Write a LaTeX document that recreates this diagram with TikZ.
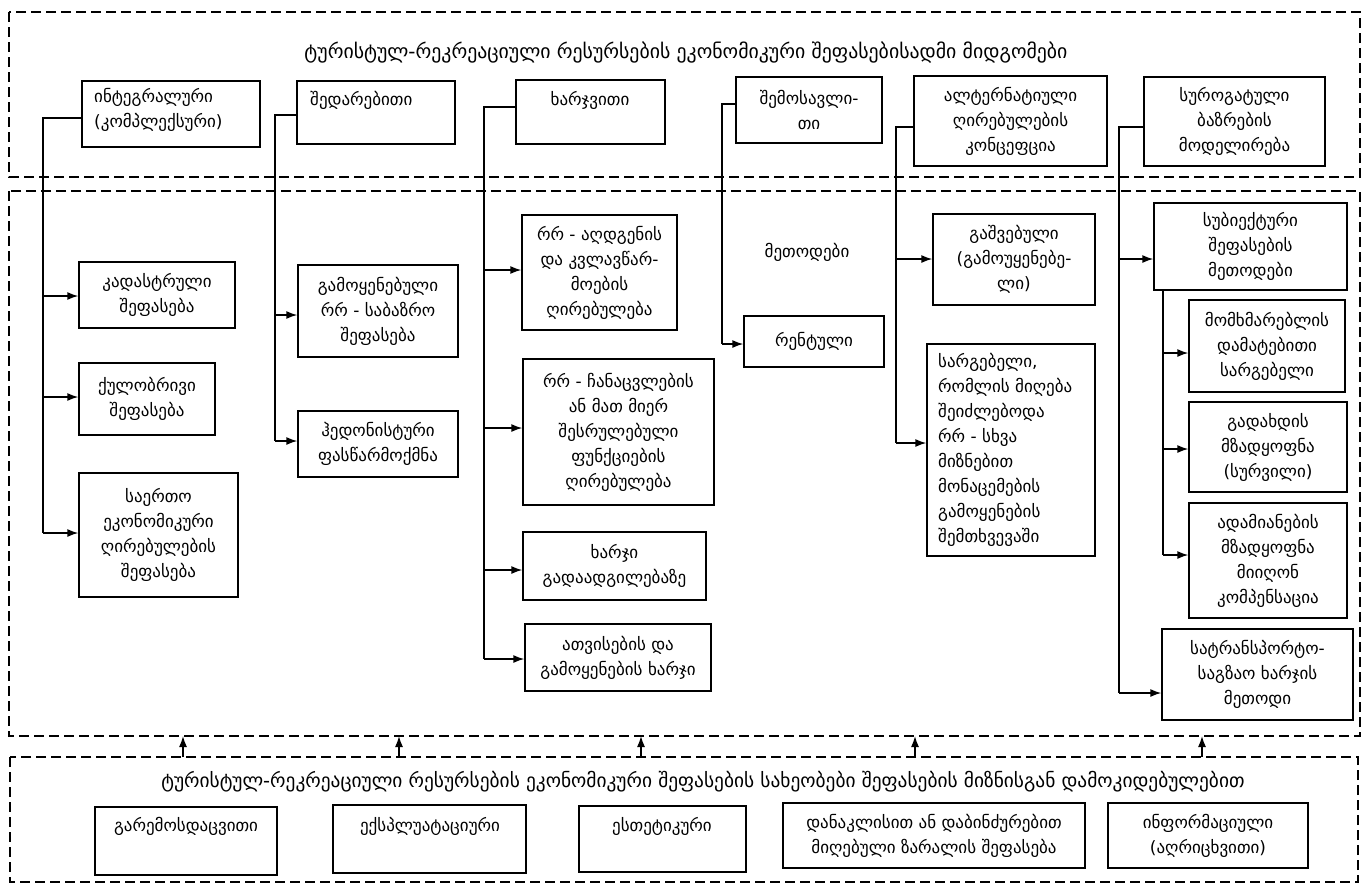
\documentclass[tikz,border=0pt]{standalone}
\usepackage{fontspec}
\newfontfamily\gf{DejaVu Sans}
\usetikzlibrary{arrows.meta}
\tikzset{
  box/.style={draw, line width=1.4pt, align=center, inner sep=0pt, font=\gf\fontsize{17}{25}\selectfont},
  txt/.style={align=center, inner sep=0pt, font=\gf\fontsize{17}{25}\selectfont},
  ttl/.style={inner sep=0pt, font=\gf\fontsize{19.8}{25}\selectfont},
  ttlb/.style={inner sep=0pt, font=\gf\fontsize{19.4}{25}\selectfont},
  frame/.style={draw, line width=1.3pt, dash pattern=on 10pt off 5pt},
  conn/.style={line width=1.4pt},
  arr/.style={line width=1.4pt, -{Latex[length=11pt,width=8pt]}},
}
\newcommand\bx[6]{\node[box, minimum width={#4-#2}, minimum height={#5-#3}] (#1) at ({(#2+#4)/2},{(#3+#5)/2}) {#6};}
\newcommand\ebx[5]{\node[box, minimum width={#4-#2}, minimum height={#5-#3}] (#1) at ({(#2+#4)/2},{(#3+#5)/2}) {};}
\begin{document}
\begin{tikzpicture}[x=1pt,y=-1pt]
\useasboundingbox (0,0) rectangle (1365,884);
\fill[white] (0,0) rectangle (1365,884);
% frames
\draw[frame] (9,12) rectangle (1360,177);
\draw[frame] (9,191) rectangle (1360,736);
\draw[frame] (10,757) rectangle (1358,882);
\node[ttl] (title1) at (686,53) {ტურისტულ-რეკრეაციული რესურსების ეკონომიკური შეფასებისადმი მიდგომები};
\node[ttlb] (title2) at (703,782) {ტურისტულ-რეკრეაციული რესურსების ეკონომიკური შეფასების სახეობები შეფასების მიზნისგან დამოკიდებულებით};
% top row
\ebx{A1}{82}{81}{260}{147}
\node[txt, align=left, anchor=north west] (A1t) at (94,88) {ინტეგრალური\\(კომპლექსური)};
\ebx{A2}{297}{81}{455}{144}
\node[txt, anchor=north west] (A2t) at (310,91) {შედარებითი};
\ebx{A3}{516}{80}{665}{144}
\node[txt, anchor=north] (A3t) at (590,91) {ხარჯვითი};
\bx{A4}{736}{77}{882}{143}{შემოსავლი-\\თი}
\bx{A5}{914}{76}{1107}{166}{ალტერნატიული\\ღირებულების\\კონცეფცია}
\bx{A6}{1144}{77}{1325}{166}{სუროგატული\\ბაზრების\\მოდელირება}
% column 1
\bx{B1}{79}{262}{235}{328}{კადასტრული\\შეფასება}
\bx{B2}{79}{363}{215}{435}{ქულობრივი\\შეფასება}
\bx{B3}{79}{473}{238}{597}{საერთო\\ეკონომიკური\\ღირებულების\\შეფასება}
% column 2
\bx{C1}{298}{265}{458}{357}{გამოყენებული\\რრ - საბაზრო\\შეფასება}
\bx{C2}{298}{411}{458}{477}{ჰედონისტური\\ფასწარმოქმნა}
% column 3
\bx{D1}{522}{215}{677}{330}{რრ - აღდგენის\\და კვლავწარ-\\მოების\\ღირებულება}
\bx{D2}{523}{359}{714}{505}{რრ - ჩანაცვლების\\ან მათ მიერ\\შესრულებული\\ფუნქციების\\ღირებულება}
\bx{D3}{523}{532}{706}{600}{ხარჯი\\გადაადგილებაზე}
\bx{D4}{525}{624}{711}{691}{ათვისების და\\გამოყენების ხარჯი}
% column 4
\node[txt] (M) at (807,252) {მეთოდები};
\bx{E1}{744}{316}{884}{367}{რენტული}
% column 5
\bx{F1}{933}{214}{1095}{305}{გაშვებული\\(გამოუყენებე-\\ლი)}
\ebx{F2}{927}{344}{1095}{556}
\node[txt, align=left, anchor=west] (F2t) at (938,450) {სარგებელი,\\რომლის მიღება\\შეიძლებოდა\\რრ - სხვა\\მიზნებით\\მონაცემების\\გამოყენების\\შემთხვევაში};
% column 6
\bx{G1}{1154}{203}{1347}{290}{სუბიექტური\\შეფასების\\მეთოდები}
\bx{G2}{1189}{300}{1345}{392}{მომხმარებლის\\დამატებითი\\სარგებელი}
\bx{G3}{1189}{402}{1347}{492}{გადახდის\\მზადყოფნა\\(სურვილი)}
\bx{G4}{1189}{503}{1347}{618}{ადამიანების\\მზადყოფნა\\მიიღონ\\კომპენსაცია}
\bx{G5}{1162}{629}{1353}{720}{სატრანსპორტო-\\საგზაო ხარჯის\\მეთოდი}
% bottom row
\ebx{H1}{95}{807}{277}{875}
\node[txt, anchor=north] (H1t) at (186,817) {გარემოსდაცვითი};
\ebx{H2}{333}{805}{526}{873}
\node[txt, anchor=north] (H2t) at (430,817) {ექსპლუატაციური};
\ebx{H3}{579}{806}{746}{872}
\node[txt, anchor=north] (H3t) at (662,817) {ესთეტიკური};
\bx{H4}{783}{803}{1085}{868}{დანაკლისით ან დაბინძურებით\\მიღებული ზარალის შეფასება}
\bx{H5}{1108}{803}{1308}{868}{ინფორმაციული\\(აღრიცხვითი)}
% trunk coordinates
\coordinate (t1) at (43,118);  \coordinate (t1e) at (43,533);
\coordinate (t2) at (275,115); \coordinate (t2e) at (275,441);
\coordinate (t3) at (484,107); \coordinate (t3e) at (484,659);
\coordinate (t4) at (722,104); \coordinate (t4e) at (722,344);
\coordinate (t5) at (896,127); \coordinate (t5e) at (896,443);
\coordinate (t6) at (1119,127); \coordinate (t6e) at (1119,693);
\coordinate (s6) at (1163,290); \coordinate (s6e) at (1163,555);
\draw[conn] (t1 -| A1.west) -- (t1) -- (t1e);
\draw[conn] (t2 -| A2.west) -- (t2) -- (t2e);
\draw[conn] (t3 -| A3.west) -- (t3) -- (t3e);
\draw[conn] (t4 -| A4.west) -- (t4) -- (t4e);
\draw[conn] (t5 -| A5.west) -- (t5) -- (t5e);
\draw[conn] (t6 -| A6.west) -- (t6) -- (t6e);
\draw[conn] (s6 |- G1.south) -- (s6e);
% arrows
\foreach \b/\y/\t in {B1/296/43, B2/397/43, B3/533/43, C1/315/275, C2/441/275,
  D1/270/484, D2/428/484, D3/570/484, D4/659/484, E1/344/722, F1/259/896, F2/443/896,
  G1/259/1119, G5/693/1119, G2/353/1163, G3/449/1163, G4/555/1163}
  {\coordinate (p\b) at (\t,\y); \draw[arr] (p\b) -- (p\b -| \b.west);}
% upward arrows between frames
\foreach \x [count=\i] in {183,399,641,915,1202}
  {\coordinate (u\i) at (\x,757); \coordinate (v\i) at (\x,736); \draw[arr] (u\i) -- (v\i);}
\end{tikzpicture}
\end{document}
